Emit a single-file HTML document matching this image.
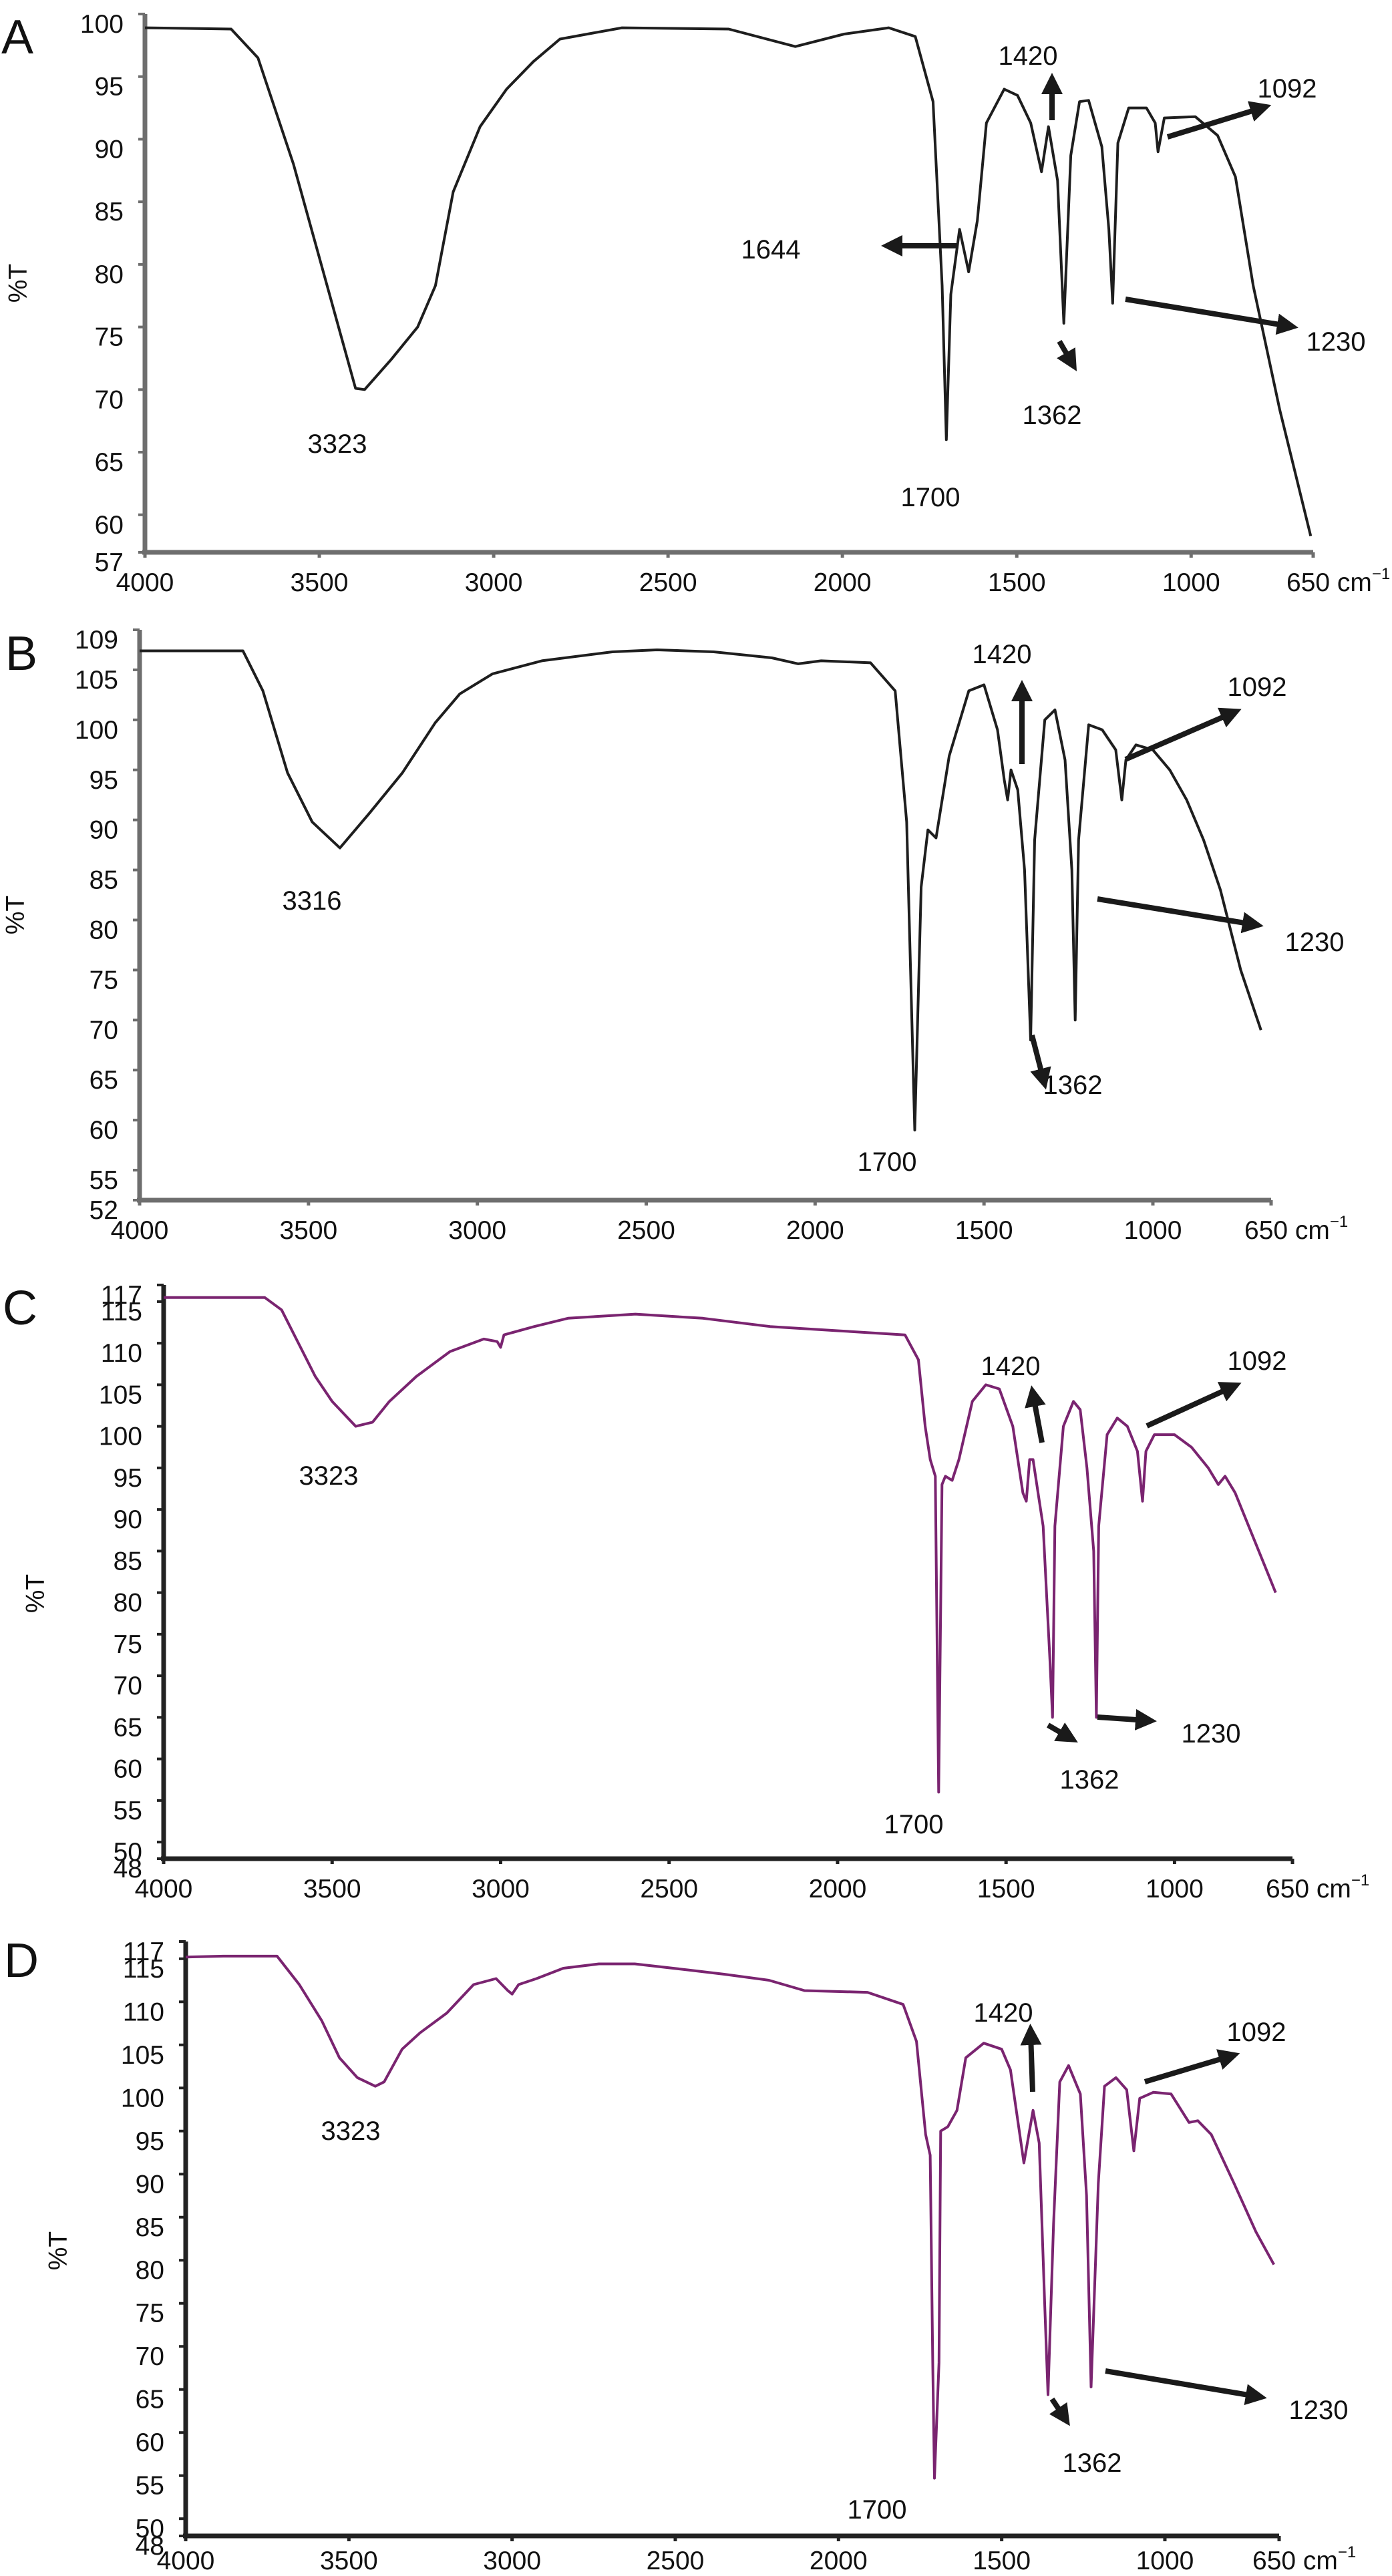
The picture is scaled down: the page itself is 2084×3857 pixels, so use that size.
<!DOCTYPE html>
<html><head><meta charset="utf-8">
<style>
html,body{margin:0;padding:0;background:#fff;}
svg{display:block;font-family:"Liberation Sans",Arial,sans-serif;}
.ann{font-size:40px;fill:#111;text-anchor:middle;}
.plab{font-size:72px;fill:#111;}
.tick{font-size:39px;fill:#111;}
</style></head>
<body>
<svg id="chart" width="2084" height="3857" viewBox="0 0 2084 3857" xmlns="http://www.w3.org/2000/svg">
<defs>
<marker id="ah" viewBox="0 0 10 10" refX="5" refY="5" markerWidth="4" markerHeight="4" orient="auto"><polygon points="0,0 10,5 0,10" fill="#1a1a1a"/></marker>
</defs>
<g id="axes"></g>
<g id="series"></g>
<text class="plab" x="2" y="80">A</text>
<text class="plab" x="8" y="1003">B</text>
<text class="plab" x="4" y="1983">C</text>
<text class="plab" x="6" y="2960">D</text>
<text class="tick" transform="translate(40,424) rotate(-90)" text-anchor="middle">%T</text>
<text class="tick" transform="translate(36,1370) rotate(-90)" text-anchor="middle">%T</text>
<text class="tick" transform="translate(66,2386) rotate(-90)" text-anchor="middle">%T</text>
<text class="tick" transform="translate(100,3370) rotate(-90)" text-anchor="middle">%T</text>
<g>
<text class="ann" x="505" y="678">3323</text>
<text class="ann" x="1393" y="758">1700</text>
<text class="ann" x="1154" y="387">1644</text>
<text class="ann" x="1539" y="97">1420</text>
<text class="ann" x="1927" y="146">1092</text>
<text class="ann" x="2000" y="525">1230</text>
<text class="ann" x="1575" y="635">1362</text>
<line x1="1435" y1="368" x2="1335" y2="368" stroke="#1a1a1a" stroke-width="8" marker-end="url(#ah)"/>
<line x1="1575" y1="180" x2="1575" y2="125" stroke="#1a1a1a" stroke-width="8" marker-end="url(#ah)"/>
<line x1="1748" y1="205" x2="1888" y2="162" stroke="#1a1a1a" stroke-width="8" marker-end="url(#ah)"/>
<line x1="1685" y1="448" x2="1928" y2="488" stroke="#1a1a1a" stroke-width="8" marker-end="url(#ah)"/>
<line x1="1586" y1="511" x2="1604" y2="542" stroke="#1a1a1a" stroke-width="8" marker-end="url(#ah)"/>
</g>
<g>
<text class="ann" x="467" y="1362">3316</text>
<text class="ann" x="1328" y="1753">1700</text>
<text class="ann" x="1606" y="1638">1362</text>
<text class="ann" x="1968" y="1424">1230</text>
<text class="ann" x="1882" y="1042">1092</text>
<text class="ann" x="1500" y="993">1420</text>
<line x1="1530" y1="1144" x2="1530" y2="1034" stroke="#1a1a1a" stroke-width="8" marker-end="url(#ah)"/>
<line x1="1685" y1="1137" x2="1844" y2="1068" stroke="#1a1a1a" stroke-width="8" marker-end="url(#ah)"/>
<line x1="1643" y1="1346" x2="1876" y2="1384" stroke="#1a1a1a" stroke-width="8" marker-end="url(#ah)"/>
<line x1="1545" y1="1550" x2="1562" y2="1616" stroke="#1a1a1a" stroke-width="8" marker-end="url(#ah)"/>
</g>
<g>
<text class="ann" x="492" y="2223">3323</text>
<text class="ann" x="1513" y="2059">1420</text>
<text class="ann" x="1882" y="2051">1092</text>
<text class="ann" x="1368" y="2745">1700</text>
<text class="ann" x="1631" y="2678">1362</text>
<text class="ann" x="1813" y="2609">1230</text>
<line x1="1560" y1="2160" x2="1547" y2="2090" stroke="#1a1a1a" stroke-width="8" marker-end="url(#ah)"/>
<line x1="1717" y1="2135" x2="1844" y2="2077" stroke="#1a1a1a" stroke-width="8" marker-end="url(#ah)"/>
<line x1="1643" y1="2571" x2="1716" y2="2576" stroke="#1a1a1a" stroke-width="8" marker-end="url(#ah)"/>
<line x1="1569" y1="2583" x2="1600" y2="2601" stroke="#1a1a1a" stroke-width="8" marker-end="url(#ah)"/>
</g>
<g>
<text class="ann" x="525" y="3204">3323</text>
<text class="ann" x="1502" y="3027">1420</text>
<text class="ann" x="1881" y="3056">1092</text>
<text class="ann" x="1313" y="3771">1700</text>
<text class="ann" x="1635" y="3701">1362</text>
<text class="ann" x="1974" y="3622">1230</text>
<line x1="1546" y1="3132" x2="1543" y2="3046" stroke="#1a1a1a" stroke-width="8" marker-end="url(#ah)"/>
<line x1="1714" y1="3117" x2="1841" y2="3079" stroke="#1a1a1a" stroke-width="8" marker-end="url(#ah)"/>
<line x1="1655" y1="3550" x2="1881" y2="3588" stroke="#1a1a1a" stroke-width="8" marker-end="url(#ah)"/>
<line x1="1575" y1="3592" x2="1593" y2="3619" stroke="#1a1a1a" stroke-width="8" marker-end="url(#ah)"/>
</g>
</svg>
<script>
const xTickLabels = [4000, 3500, 3000, 2500, 2000, 1500, 1000, 650];
const yTicksA = [57, 60, 65, 70, 75, 80, 85, 90, 95, 100];
const yTicksB = [52, 55, 60, 65, 70, 75, 80, 85, 90, 95, 100, 105, 109];
const yTicksC = [48, 50, 55, 60, 65, 70, 75, 80, 85, 90, 95, 100, 105, 110, 115, 117];
const yTicksD = [48, 50, 55, 60, 65, 70, 75, 80, 85, 90, 95, 100, 105, 110, 115, 117];

const wnA = [4000,3753,3676,3574,3396,3370,3294,3218,3167,3116,3039,2963,2886,2810,2632,2326,2135,1995,1867,1791,1740,1714,1702,1689,1664,1638,1613,1587,1536,1498,1460,1429,1409,1383,1365,1345,1320,1294,1256,1236,1225,1210,1179,1128,1103,1095,1077,988,924,873,822,746,657];
const tA  = [98.9,98.8,96.5,88,70.1,70,72.4,75,78.3,85.8,91,94,96.2,98,98.9,98.8,97.4,98.4,98.9,98.2,93,78.3,66,77.6,82.8,79.4,83.5,91.3,94,93.5,91.3,87.4,91,86.7,75.3,88.7,93,93.1,89.4,82.8,76.9,89.7,92.5,92.5,91.3,89,91.7,91.8,90.3,87,78.3,68.4,58.3];

const wnB = [4000,3694,3635,3562,3489,3407,3319,3222,3125,3052,2955,2809,2600,2468,2300,2128,2050,1982,1836,1763,1729,1705,1686,1666,1642,1603,1545,1500,1460,1440,1430,1420,1400,1380,1362,1350,1320,1290,1260,1240,1230,1220,1190,1150,1110,1092,1080,1050,1000,950,900,850,800,740,680];
const tB  = [106.9,106.9,102.9,94.7,89.8,87.2,90.7,94.7,99.7,102.6,104.6,105.9,106.8,107,106.8,106.2,105.6,105.9,105.7,102.9,89.8,59,83.3,89,88.2,96.4,102.9,103.5,99,94,92,95,93,85,68,88,100,101,96,85,70,88,99.5,99,97,92,96,97.5,97,95,92,88,83,75,69];

const wnC = [4000,3700,3650,3600,3550,3500,3430,3380,3330,3250,3150,3050,3010,3000,2990,2900,2800,2600,2400,2200,2000,1800,1760,1740,1725,1710,1700,1690,1680,1660,1640,1600,1560,1520,1480,1450,1440,1430,1420,1405,1390,1370,1362,1355,1330,1300,1280,1260,1240,1232,1225,1200,1170,1140,1110,1095,1085,1060,1000,950,900,870,850,820,780,740,700];
const tC  = [115.5,115.5,114,110,106,103,100,100.5,103,106,109,110.5,110.2,109.5,111,112,113,113.5,113,112,111.5,111,108,100,96,94,56,93,94,93.5,96,103,105,104.5,100,92,91,96,96,92,88,72,65,88,100,103,102,95,85,65,88,99,101,100,97,91,97,99,99,97.5,95,93,94,92,88,84,80];

const wnD = [4000,3885,3720,3652,3583,3529,3474,3419,3392,3337,3282,3200,3118,3049,3013,3000,2980,2925,2843,2734,2624,2460,2350,2213,2104,1911,1802,1761,1733,1719,1711,1706,1692,1687,1665,1637,1610,1555,1500,1473,1432,1404,1385,1368,1358,1341,1322,1295,1259,1240,1226,1204,1185,1150,1117,1095,1077,1035,981,926,899,858,789,721,666];
const tD  = [115.2,115.3,115.3,112,107.8,103.5,101.2,100.2,100.7,104.5,106.4,108.7,112,112.7,111.3,110.9,112,112.7,113.9,114.4,114.4,113.7,113.2,112.5,111.3,111.1,109.7,105.4,94.6,92.2,67.7,54.7,68.1,95,95.5,97.4,103.5,105.2,104.5,102.1,91.3,97.4,93.6,74.8,64.4,84.2,100.7,102.6,99.3,87.5,65.3,88.9,100.2,101.2,99.8,92.7,98.8,99.5,99.3,96,96.2,94.6,89,83.3,79.5];

const panels = [
  {id:'a', x0:217, x1:1966, yT:21,   vT:100, yB:827,  vB:57, lab:58, axis:'#6e6e6e', line:'#1e1e1e', wn:wnA, t:tA, yt:yTicksA},
  {id:'b', x0:209, x1:1903, yT:943,  vT:109, yB:1797, vB:52, lab:58, axis:'#6e6e6e', line:'#1e1e1e', wn:wnB, t:tB, yt:yTicksB},
  {id:'c', x0:245, x1:1935, yT:1924, vT:117, yB:2783, vB:48, lab:58, axis:'#222222', line:'#7a2470', wn:wnC, t:tC, yt:yTicksC},
  {id:'d', x0:278, x1:1915, yT:2907, vT:117, yB:3797, vB:48, lab:50, axis:'#222222', line:'#7a2470', wn:wnD, t:tD, yt:yTicksD}
];
const NS = 'http://www.w3.org/2000/svg';
const axesG = document.getElementById('axes');
const seriesG = document.getElementById('series');
function mk(tag, attrs, parent){
  const e = document.createElementNS(NS, tag);
  for (const k in attrs) e.setAttribute(k, attrs[k]);
  parent.appendChild(e);
  return e;
}
panels.forEach(p => {
  const sx = w => p.x0 + (4000 - w) * (p.x1 - p.x0) / 3350;
  const sy = v => p.yB - (v - p.vB) * (p.yB - p.yT) / (p.vT - p.vB);
  const g = mk('g', {}, axesG);
  
  
  const ya = mk('line', {x1:p.x0, y1:p.yT, x2:p.x0, y2:p.yB + 3, stroke:p.axis, 'stroke-width':7}, g);
  
  
  const xa = mk('line', {x1:p.x0 - 4, y1:p.yB, x2:p.x1, y2:p.yB, stroke:p.axis, 'stroke-width':7}, g);
  
  
  p.yt.forEach(v => {
    const y = sy(v);
    mk('line', {x1:p.x0 - 10, y1:y, x2:p.x0, y2:y, stroke:p.axis, 'stroke-width':4}, g);
    const tx = mk('text', {x:p.x0 - 32, y:y + 28, 'text-anchor':'end', class:'tick'}, g);
    tx.textContent = v;
    
    
  });
  xTickLabels.forEach(w => {
    const x = sx(w);
    mk('line', {x1:x, y1:p.yB, x2:x, y2:p.yB + 8, stroke:p.axis, 'stroke-width':5}, g);
    const tx = mk('text', {x: w === 650 ? x - 40 : x, y:p.yB + p.lab, 'text-anchor': w === 650 ? 'start' : 'middle', class:'tick'}, g);
    if (w === 650) {
      tx.textContent = '650 cm';
      const s = mk('tspan', {dy:-18, 'font-size':24}, tx);
      s.textContent = '\u22121';
    } else {
      tx.textContent = w;
    }
    
    
  });
  const d = p.wn.map((w, i) => (i ? 'L' : 'M') + sx(w).toFixed(1) + ',' + sy(p.t[i]).toFixed(1)).join(' ');
  const path = mk('path', {d:d, fill:'none', stroke:p.line, 'stroke-width':4, 'stroke-linejoin':'round'}, seriesG);
  
  
});
</script>
</body></html>
